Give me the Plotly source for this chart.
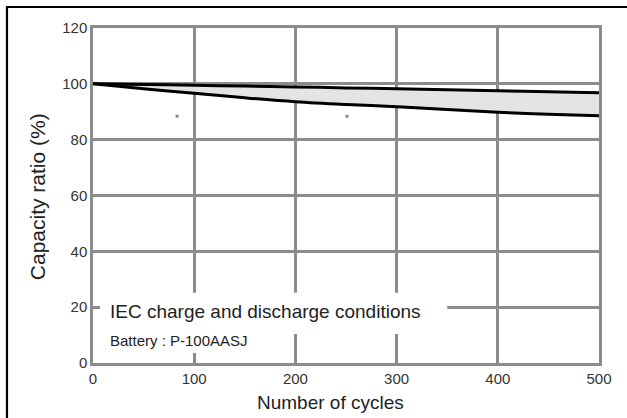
import plotly.graph_objects as go

# Data
cycles = [0, 50, 100, 150, 200, 250, 300, 350, 400, 450, 500]
capacity_lower = [100, 98.2, 96.6, 95.0, 93.6, 92.6, 91.8, 90.8, 89.8, 89.1, 88.6]
capacity_upper = [100, 99.75, 99.5, 99.2, 98.9, 98.55, 98.2, 97.85, 97.5, 97.15, 96.8]
dot_x = [83, 251]
dot_y = [88.4, 88.4]
x_ticks = [0, 100, 200, 300, 400, 500]
y_ticks = [0, 20, 40, 60, 80, 100, 120]

GRID = "#8c8c8c"
FONT = "Liberation Sans, Arial, sans-serif"

fig = go.Figure()
fig.add_trace(go.Scatter(x=cycles, y=capacity_lower, mode="lines",
                         line=dict(color="black", width=3, shape="spline"),
                         showlegend=False, hoverinfo="skip"))
fig.add_trace(go.Scatter(x=cycles, y=capacity_upper, mode="lines",
                         line=dict(color="black", width=3, shape="spline"),
                         fill="tonexty", fillcolor="#e4e4e4",
                         showlegend=False, hoverinfo="skip"))
fig.add_trace(go.Scatter(x=dot_x, y=dot_y, mode="markers",
                         marker=dict(symbol="square", size=3, color="#888888"),
                         showlegend=False, hoverinfo="skip"))

# white boxes interrupting the grid behind the note text
fig.add_shape(type="rect", x0=7, x1=350, y0=10.4, y1=25.2, xref="x", yref="y",
              fillcolor="white", line=dict(width=0), layer="above")
fig.add_shape(type="rect", x0=7, x1=145, y0=3.6, y1=10.6, xref="x", yref="y",
              fillcolor="white", line=dict(width=0), layer="above")

# outer black frame (partly outside view)
fig.add_shape(type="path", path="M -0.170,-0.3 L -0.170,1.0627 L 1.3,1.0627",
              xref="paper", yref="paper", line=dict(color="black", width=2.2))

fig.add_annotation(text="IEC charge and discharge conditions", x=14.8, y=18.3,
                   xref="x", yref="y", xanchor="left", yanchor="middle",
                   showarrow=False, font=dict(family=FONT, size=19, color="#222222"))
fig.add_annotation(text="Battery : P-100AASJ", x=14.8, y=8.0,
                   xref="x", yref="y", xanchor="left", yanchor="middle",
                   showarrow=False, font=dict(family=FONT, size=15, color="#222222"))

fig.add_annotation(text="Number of cycles", x=0.470, y=-0.117, xref="paper", yref="paper",
                   xanchor="center", yanchor="middle", showarrow=False,
                   font=dict(family=FONT, size=19, color="#222222"))
fig.add_annotation(text="Capacity ratio (%)", x=-0.110, y=0.496, xref="paper", yref="paper",
                   xanchor="center", yanchor="middle", textangle=-90, showarrow=False,
                   font=dict(family=FONT, size=21, color="#222222"))
fig.add_annotation(text="Typical Cycle Characteristics", x=-0.168, y=1.0806,
                   xref="paper", yref="paper", xanchor="left", yanchor="bottom",
                   showarrow=False,
                   font=dict(family="Liberation Serif, serif", size=26, color="black",
                             weight="bold"))

fig.update_xaxes(range=[0, 500], tickvals=x_ticks, showgrid=True, gridcolor=GRID,
                 gridwidth=2.5, showline=True, linecolor=GRID, linewidth=2.5, mirror=True,
                 zeroline=False, ticks="", tickfont=dict(family=FONT, size=15, color="#333333"))
fig.update_yaxes(range=[0, 120], tickvals=y_ticks, showgrid=True, gridcolor=GRID,
                 gridwidth=2.5, showline=True, linecolor=GRID, linewidth=2.5, mirror=True,
                 zeroline=False, ticks="", tickfont=dict(family=FONT, size=15, color="#333333"))

fig.update_layout(width=627, height=418, margin=dict(l=93, r=28, t=28, b=55),
                  paper_bgcolor="white", plot_bgcolor="white", showlegend=False)

fig.write_html("out.html", config={"displayModeBar": False},
               post_script="document.body.style.margin='0';document.body.style.overflow='hidden';")
